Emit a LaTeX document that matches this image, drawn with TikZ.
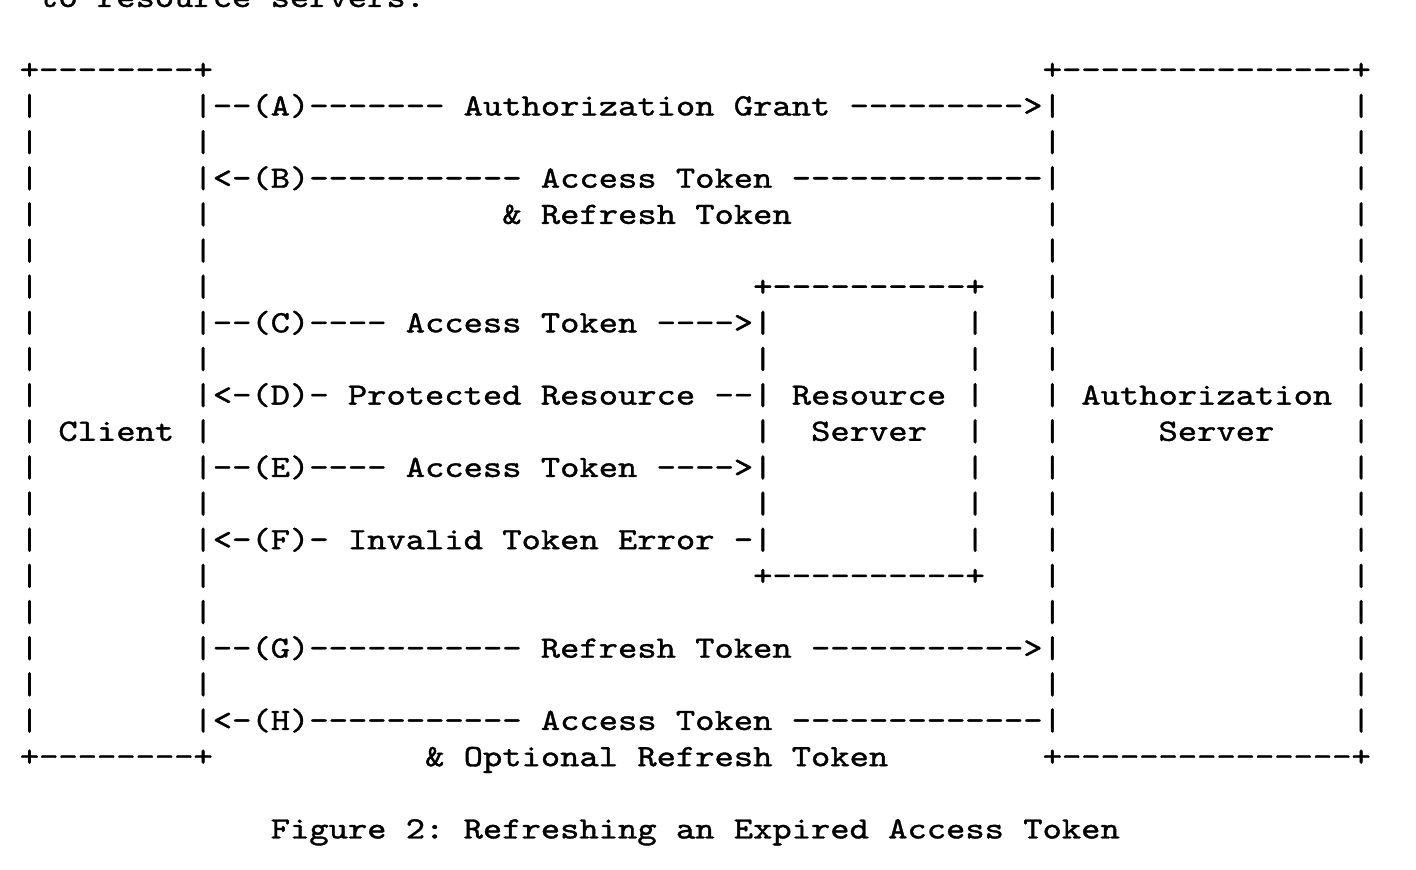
\documentclass[tikz,border=0pt]{standalone}
\usepackage{fontspec}
\setmonofont{lmmono10-regular.otf}[FakeStretch=1.186,FakeBold=1.2]
\frenchspacing

\begin{document}
\begin{tikzpicture}[
  x=3.861mm, y=-7.232mm,
  rfc/.style={anchor=base west, inner sep=0pt, outer sep=0pt, font=\ttfamily\fontsize{17.64pt}{20pt}\selectfont}
]

\clip (-1.0285,-2.193) rectangle (72.34,21.867);
\fill[white] (-1.0285,-2.193) rectangle (72.34,21.867);

\node[rfc] (intro) at (1,-2.0) {to resource servers.};

\node[rfc] (clienttop) at (0,0) {+--------+};
\node[rfc] (astop) at (53,0) {+---------------+};
\foreach \r in {1,...,18}
  \foreach \c in {0,9,53,69}
    \node[rfc] (bar-\r-\c) at (\c,\r) {|};

\node[rfc] (arrA) at (10,1) {--(A)------- Authorization Grant --------->};
\node[rfc] (arrB) at (10,3) {<-(B)----------- Access Token -------------};
\node[rfc] (tokB) at (25,4) {\& Refresh Token};

\node[rfc] (rstop) at (38,6) {+----------+};
\foreach \r in {7,...,13}
  \foreach \c in {38,49}
    \node[rfc] (rsbar-\r-\c) at (\c,\r) {|};
\node[rfc] (rsbot) at (38,14) {+----------+};

\node[rfc] (arrC) at (10,7) {--(C)---- Access Token ---->};
\node[rfc] (arrD) at (10,9) {<-(D)- Protected Resource --};
\node[rfc] (arrE) at (10,11) {--(E)---- Access Token ---->};
\node[rfc] (arrF) at (10,13) {<-(F)- Invalid Token Error -};

\node[rfc] (client) at (2,10) {Client};
\node[rfc] (rsname) at (40,9) {Resource};
\node[rfc] (rsname2) at (41,10) {Server};
\node[rfc] (asname) at (55,9) {Authorization};
\node[rfc] (asname2) at (59,10) {Server};

\node[rfc] (arrG) at (10,16) {--(G)----------- Refresh Token ----------->};
\node[rfc] (arrH) at (10,18) {<-(H)----------- Access Token -------------};

\node[rfc] (clientbot) at (0,19) {+--------+};
\node[rfc] (tokH) at (21,19) {\& Optional Refresh Token};
\node[rfc] (asbot) at (53,19) {+---------------+};

\node[rfc] (caption) at (13,21) {Figure 2: Refreshing an Expired Access Token};

\end{tikzpicture}
\end{document}
